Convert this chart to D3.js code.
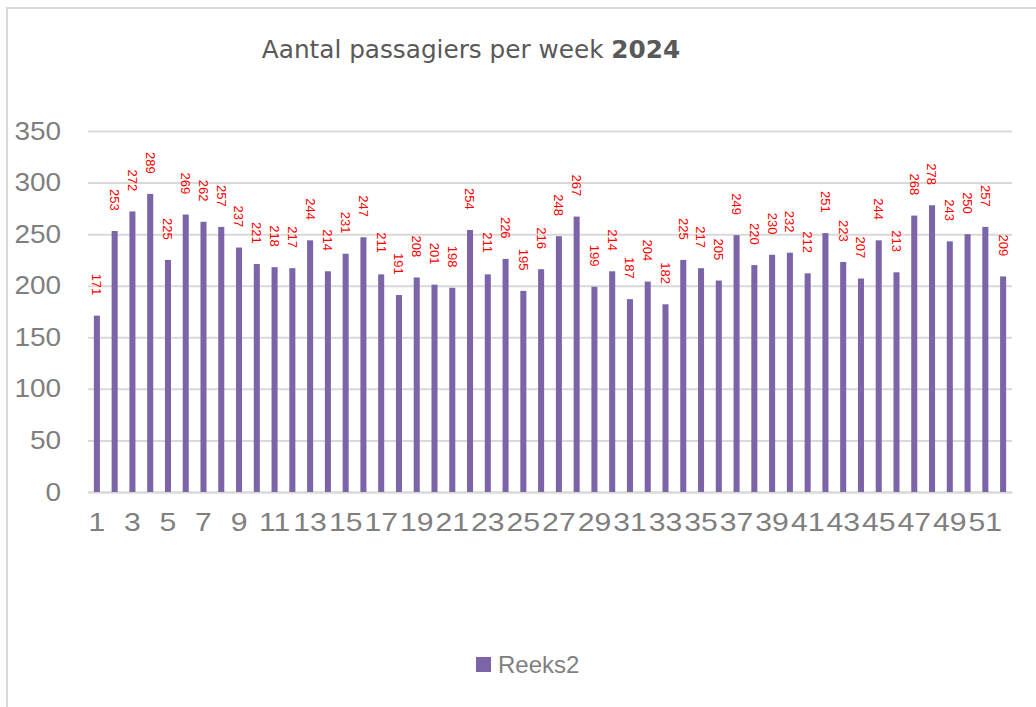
<!DOCTYPE html>
<html>
<head>
<meta charset="utf-8">
<script src="https://cdn.jsdelivr.net/npm/d3@7"></script>
<style>
    html, body { margin: 0; padding: 0; background: #fff; }
    svg { display: block; }
</style>
</head>
<body>
<svg id="chart" width="1036" height="707"></svg>
<script>
    var weeks = d3.range(1, 53);
    var passengers = [
        171, 253, 272, 289, 225, 269, 262, 257, 237, 221,
        218, 217, 244, 214, 231, 247, 211, 191, 208, 201,
        198, 254, 211, 226, 195, 216, 248, 267, 199, 214,
        187, 204, 182, 225, 217, 205, 249, 220, 230, 232,
        212, 251, 223, 207, 244, 213, 268, 278, 243, 250,
        257, 209
    ];
    var yTicks = [0, 50, 100, 150, 200, 250, 300, 350];
    var xTickLabels = weeks.filter(function(w) { return w % 2 === 1; });
    var seriesName = "Reeks2";
    var titleText = "Aantal passagiers per week ";
    var titleYear = "2024";

    var BAR = "#7b64a8";
    var GRID = "#d9d9d9";
    var AXIS_TEXT = "#7f7f7f";
    var FONT = "'Liberation Sans', Arial, sans-serif";

    var svg = d3.select("#chart");
    var margin = { left: 88, right: 24, top: 131, bottom: 215 };
    var width = 1036 - margin.left - margin.right;
    var height = 707 - margin.top - margin.bottom;

    // outer frame (only top and left edges show in the picture)
    svg.append("path")
        .attr("d", "M7,707V8H1036")
        .attr("fill", "none")
        .attr("stroke", GRID)
        .attr("stroke-width", 2);

    svg.append("text")
        .attr("transform", "translate(471,58) scale(1.1,1)")
        .attr("text-anchor", "middle")
        .attr("font-family", "'DejaVu Sans Condensed', 'DejaVu Sans', sans-serif")
        .attr("font-size", 25)
        .attr("fill", "#595959")
        .call(function(t) {
            t.append("tspan").attr("font-weight", 300).text(titleText);
            t.append("tspan").attr("font-weight", "bold").text(titleYear);
        });

    var g = svg.append("g").attr("transform", "translate(" + margin.left + "," + margin.top + ")");

    var x = d3.scaleBand()
        .domain(weeks)
        .range([0, width])
        .paddingInner(0.66)
        .paddingOuter(0.33);

    var y = d3.scaleLinear()
        .domain([0, 350])
        .range([height, 0]);

    var yAxis = g.append("g")
        .call(d3.axisLeft(y).tickValues(yTicks).tickSize(-width).tickPadding(24));
    yAxis.select(".domain").remove();
    yAxis.selectAll(".tick line").attr("stroke", GRID).attr("stroke-width", 2);
    yAxis.selectAll(".tick text")
        .attr("fill", AXIS_TEXT)
        .attr("font-family", FONT)
        .attr("font-size", 25)
        .attr("transform", "scale(1.12,1)");

    var xAxis = g.append("g")
        .attr("transform", "translate(0," + height + ")")
        .call(d3.axisBottom(x).tickValues(xTickLabels).tickSize(0).tickPadding(21));
    xAxis.select(".domain").attr("stroke", GRID).attr("stroke-width", 2);
    xAxis.selectAll(".tick text")
        .attr("fill", AXIS_TEXT)
        .attr("font-family", FONT)
        .attr("font-size", 26)
        .attr("transform", "scale(1.16,1)");

    g.selectAll(".bar")
        .data(passengers)
        .enter()
        .append("rect")
        .attr("class", "bar")
        .attr("x", function(d, i) { return x(weeks[i]); })
        .attr("y", function(d) { return y(d); })
        .attr("width", x.bandwidth())
        .attr("height", function(d) { return height - y(d); })
        .attr("fill", BAR);

    g.selectAll(".label")
        .data(passengers)
        .enter()
        .append("text")
        .attr("class", "label")
        .attr("transform", function(d, i) {
            var cx = x(weeks[i]) + x.bandwidth() / 2;
            return "translate(" + cx + "," + (y(d) - 42) + ") rotate(90)";
        })
        .attr("dy", "0.35em")
        .attr("font-family", FONT)
        .attr("font-size", 13)
        .attr("fill", "#ff0000")
        .text(function(d) { return d; });

    var legend = svg.append("g").attr("transform", "translate(476,657)");
    legend.append("rect")
        .attr("width", 15)
        .attr("height", 15)
        .attr("fill", BAR);
    legend.append("text")
        .attr("x", 22)
        .attr("y", 16)
        .attr("font-family", FONT)
        .attr("font-size", 24)
        .attr("fill", AXIS_TEXT)
        .text(seriesName);
</script>
</body>
</html>
